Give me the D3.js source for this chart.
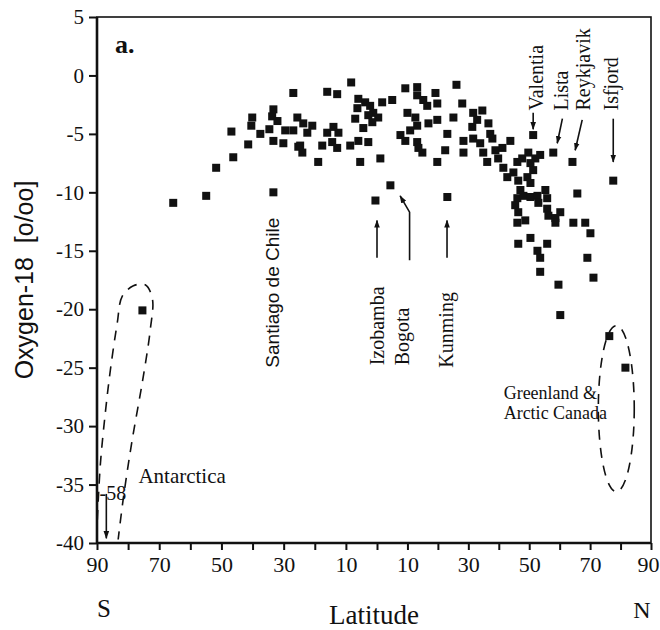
<!DOCTYPE html>
<html>
<head>
<meta charset="utf-8">
<script src="https://cdn.jsdelivr.net/npm/d3@7"></script>
<style>
  body { margin: 0; background: #fff; }
</style>
</head>
<body>
<div id="chart"></div>
<script>
const SERIF = '"Liberation Serif", "Times New Roman", serif';
const SANS = '"Liberation Sans", Arial, sans-serif';

// station latitude (negative = south) and mean oxygen-18 of precipitation [o/oo]
const latitudes = [
  -65.5, -54.9, -51.7, -46.2, -46.8, -41.4, -40.1, -40.4, -37.5, -33.3,
  -33.3, -33.7, -32.0, -34.6, -33.3, -30.1, -29.5, -26.9, -25.6, -26.9,
  -25.3, -24.0, -24.7, -23.7, -20.8, -22.4, -18.9, -17.6, -16.0, -14.0,
  -12.4, -14.4, -12.8, -16.0, -12.8, -8.3, -8.6, -6.0, -2.8, -5.4,
  1.1, -4.4, -7.0, -6.3, -6.0, -3.8, -2.2, -1.2, -2.8, 0.4,
  -1.5, 1.7, 5.0, 9.3, 13.2, 13.2, 15.2, 16.5, 19.2, 19.8,
  10.0, 12.6, 13.2, 10.9, 7.7, 9.3, 13.2, 13.6, 14.9, 16.9,
  19.8, 19.8, 4.4, -0.5, 26.1, 28.0, 25.1, 23.1, 22.4, 23.1,
  28.4, 28.4, 31.6, 34.6, 32.9, 31.3, 36.6, 37.2, 31.6, 33.9,
  34.9, 36.2, 37.9, 38.9, 39.8, 41.2, 43.8, 41.5, 42.8, 44.8,
  46.4, 46.1, 47.7, 49.7, 51.3, 52.0, 53.6, 50.4, 51.3, 49.4,
  50.4, 47.1, 46.1, 48.1, 45.4, 46.4, 46.1, 48.7, 50.4, 52.7,
  53.0, 55.3, 55.9, 55.9, 56.3, 58.6, 60.2, 58.6, 46.4, 50.4,
  55.9, 52.7, 53.6, 53.6, 59.6, 57.9, 64.2, 64.5, 65.8, 68.4,
  70.1, 69.1, 71.1, 60.2, 77.6, 76.3, 81.6, -75.4
];
const o18 = [
  -10.9, -10.3, -7.9, -7.0, -4.8, -5.9, -3.6, -4.3, -5.0, -10.0,
  -2.9, -3.5, -3.9, -4.6, -5.6, -5.8, -4.7, -1.5, -3.6, -4.7,
  -6.1, -6.6, -6.0, -4.1, -4.3, -4.9, -7.4, -6.0, -4.9, -4.4,
  -4.9, -5.7, -6.2, -1.4, -1.6, -0.6, -6.0, -5.6, -5.7, -7.4,
  -7.1, -4.5, -3.7, -2.8, -2.0, -2.3, -2.6, -3.2, -3.4, -3.6,
  -4.0, -2.3, -2.1, -1.1, -1.0, -1.7, -2.1, -2.6, -1.5, -2.4,
  -3.2, -3.6, -4.3, -4.7, -5.1, -5.6, -5.7, -6.2, -6.6, -4.1,
  -3.8, -7.4, -9.4, -10.7, -0.8, -2.4, -3.6, -5.0, -6.4, -10.4,
  -5.6, -6.6, -3.2, -3.0, -3.8, -4.4, -4.1, -5.0, -5.4, -5.8,
  -6.6, -7.4, -5.4, -6.4, -7.1, -6.2, -5.6, -7.9, -8.7, -8.3,
  -9.0, -7.4, -7.1, -6.6, -5.1, -7.1, -6.8, -7.5, -8.1, -8.7,
  -9.2, -9.8, -10.5, -10.3, -11.1, -11.7, -12.6, -12.4, -10.4, -10.3,
  -10.9, -9.8, -10.5, -11.4, -12.0, -12.2, -11.7, -12.6, -14.4, -13.9,
  -14.4, -15.0, -15.6, -16.8, -17.9, -6.6, -7.4, -12.6, -10.1, -12.6,
  -13.5, -15.6, -17.3, -20.5, -9.0, -22.3, -25.0, -20.1
];

const xTickValues = [-90, -70, -50, -30, -10, 10, 30, 50, 70, 90];
const xTickLabels = ["90", "70", "50", "30", "10", "10", "30", "50", "70", "90"];
const yTickValues = [5, 0, -5, -10, -15, -20, -25, -30, -35, -40];

const siteNames = ["Santiago de Chile", "Izobamba", "Bogota", "Kunming",
                   "Valentia", "Lista", "Reykjavik", "Isfjord"];
// where each rotated name starts (lat, o18)
const siteLabelAt = [[-31.4, -25.0], [2.4, -24.8], [10.6, -24.8], [25.1, -25.0],
                     [54.6, -3.0], [62.6, -3.0], [69.8, -3.0], [79.3, -3.0]];

const pointers = [
  [[0, -15.6], [0, -12.4]],
  [[10.7, -15.8], [10.7, -11.7], [7.6, -10.3]],
  [[23.0, -15.6], [23.0, -12.4]],
  [[51.3, -3.2], [51.3, -4.6]],
  [[60.9, -3.7], [59.2, -5.8]],
  [[67.4, -3.8], [65.1, -6.4]],
  [[77.6, -3.7], [77.6, -7.4]],
  [[-87.0, -35.8], [-87.0, -39.6]]
];

// dashed loop round the Antarctic stations
const antarcticLoop = [
  [-89.9, -38.0], [-88.9, -33.2], [-87.3, -28.8], [-85.7, -25.2], [-83.5, -21.2],
  [-81.9, -18.9], [-78.3, -18.0], [-74.5, -17.9], [-72.2, -19.1], [-72.9, -21.8],
  [-75.4, -26.2], [-78.7, -31.2], [-81.5, -36.1], [-83.2, -39.7]
];

const margin = {top: 17, right: 9, bottom: 87, left: 97},
      width = 660 - margin.left - margin.right,
      height = 630 - margin.top - margin.bottom;

const svg = d3.select("#chart")
  .append("svg")
  .attr("width", 660)
  .attr("height", 630)
  .append("g")
  .attr("transform", `translate(${margin.left},${margin.top})`);

const defs = svg.append("defs");
defs.append("marker")
  .attr("id", "arrow")
  .attr("viewBox", "0 0 10 10")
  .attr("refX", 9)
  .attr("refY", 5)
  .attr("markerUnits", "userSpaceOnUse")
  .attr("markerWidth", 8)
  .attr("markerHeight", 8)
  .attr("orient", "auto")
  .append("path")
  .attr("d", "M0,1.5 L10,5 L0,8.5 Z")
  .attr("fill", "#111");

const x = d3.scaleLinear().domain([-90, 0, 90]).range([0, 280, width]);
const y = d3.scaleLinear().domain([-40, 5]).range([height, 0]);

// axes
const yAxis = svg.append("g")
  .call(d3.axisLeft(y).tickValues(yTickValues).tickSize(8).tickPadding(5).tickFormat(d => String(d)));
yAxis.select(".domain").remove();
yAxis.selectAll(".tick line").attr("stroke", "#111").attr("stroke-width", 2);
yAxis.selectAll(".tick text")
  .attr("fill", "#111")
  .style("font-family", SERIF)
  .style("font-size", "21px");

const xAxis = svg.append("g")
  .attr("transform", `translate(0,${height})`)
  .call(d3.axisBottom(x)
    .tickValues(d3.range(-90, 91, 10))
    .tickSize(7)
    .tickPadding(6)
    .tickFormat(d => {
      const i = xTickValues.indexOf(d);
      return i >= 0 ? xTickLabels[i] : "";
    }));
xAxis.select(".domain").remove();
xAxis.selectAll(".tick line").attr("stroke", "#111").attr("stroke-width", 2);
xAxis.selectAll(".tick text")
  .attr("fill", "#111")
  .attr("dx", d => d === 90 ? -3 : 0)
  .style("font-family", SERIF)
  .style("font-size", "22px");

// frame
svg.append("rect")
  .attr("width", width)
  .attr("height", height)
  .attr("fill", "none")
  .attr("stroke", "#111")
  .attr("stroke-width", 1.6);
svg.append("line")
  .attr("x1", 0).attr("x2", 0).attr("y1", 0).attr("y2", height)
  .attr("stroke", "#111").attr("stroke-width", 2.6);
svg.append("line")
  .attr("x1", 0).attr("x2", width).attr("y1", height).attr("y2", height)
  .attr("stroke", "#111").attr("stroke-width", 2.4);

// stations
const stations = latitudes.map((lat, i) => ({lat, o18: o18[i]}));
const size = 8;
svg.selectAll(".station")
  .data(stations)
  .enter()
  .append("rect")
  .attr("class", "station")
  .attr("x", d => x(d.lat) - size / 2)
  .attr("y", d => y(d.o18) - size / 2)
  .attr("width", size)
  .attr("height", size)
  .attr("fill", "#111");

// pointers
const line = d3.line().x(d => x(d[0])).y(d => y(d[1]));
svg.selectAll(".pointer")
  .data(pointers)
  .enter()
  .append("path")
  .attr("class", "pointer")
  .attr("d", line)
  .attr("fill", "none")
  .attr("stroke", "#111")
  .attr("stroke-width", 1.6)
  .attr("marker-end", "url(#arrow)");

// dashed loops
svg.append("path")
  .attr("d", d3.line().x(d => x(d[0])).y(d => y(d[1])).curve(d3.curveCatmullRom)(antarcticLoop))
  .attr("fill", "none")
  .attr("stroke", "#111")
  .attr("stroke-width", 1.6)
  .attr("stroke-dasharray", "10,8");

svg.append("ellipse")
  .attr("cx", x(78.6))
  .attr("cy", y(-28.5))
  .attr("rx", x(84.5) - x(78.6))
  .attr("ry", y(-35.6) - y(-28.5))
  .attr("fill", "none")
  .attr("stroke", "#111")
  .attr("stroke-width", 1.6)
  .attr("stroke-dasharray", "10,8");

// site names
svg.selectAll(".site")
  .data(siteNames)
  .enter()
  .append("text")
  .attr("class", "site")
  .attr("transform", (d, i) => `translate(${x(siteLabelAt[i][0])},${y(siteLabelAt[i][1])}) rotate(-90)`)
  .attr("fill", "#111")
  .style("font-family", (d, i) => i === 0 ? SANS : SERIF)
  .style("font-size", (d, i) => i === 0 ? "19px" : "20px")
  .text(d => d);

const note = (txt, lat, val, size) => svg.append("text")
  .attr("x", x(lat))
  .attr("y", y(val))
  .attr("fill", "#111")
  .style("font-family", SERIF)
  .style("font-size", size)
  .text(txt);

note("Antarctica", -76.7, -34.9, "21px");
note("-58", -89.2, -36.3, "20px");
note("Greenland &", 41.6, -27.7, "18px");
note("Arctic Canada", 41.6, -29.35, "18px");

svg.append("text")
  .attr("x", 18)
  .attr("y", 36)
  .attr("fill", "#111")
  .style("font-family", SERIF)
  .style("font-size", "26px")
  .style("font-weight", "bold")
  .text("a.");

// axis titles
svg.append("text")
  .attr("transform", `translate(${33 - margin.left},${height / 2}) rotate(-90)`)
  .attr("text-anchor", "middle")
  .attr("fill", "#111")
  .style("font-family", SANS)
  .style("font-size", "25px")
  .style("white-space", "pre")
  .text("Oxygen-18  [o/oo]");

svg.append("text")
  .attr("x", width / 2)
  .attr("y", 624 - margin.top)
  .attr("text-anchor", "middle")
  .attr("fill", "#111")
  .style("font-family", SERIF)
  .style("font-size", "27px")
  .text("Latitude");

svg.append("text")
  .attr("x", 7)
  .attr("y", 617 - margin.top)
  .attr("text-anchor", "middle")
  .attr("fill", "#111")
  .style("font-family", SERIF)
  .style("font-size", "25px")
  .text("S");

svg.append("text")
  .attr("x", 545)
  .attr("y", 618 - margin.top)
  .attr("text-anchor", "middle")
  .attr("fill", "#111")
  .style("font-family", SERIF)
  .style("font-size", "24px")
  .text("N");
</script>
</body>
</html>
